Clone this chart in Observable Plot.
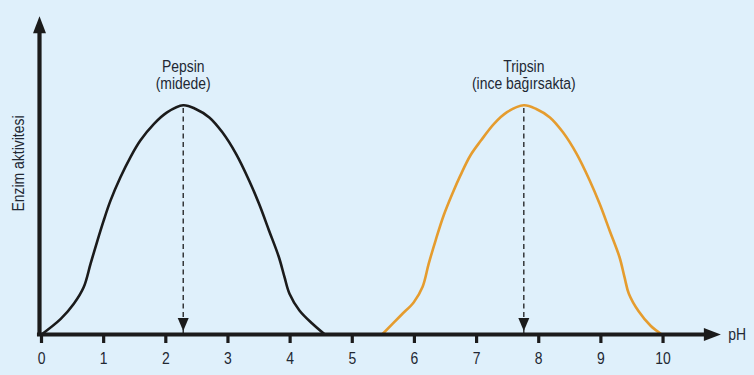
<!DOCTYPE html>
<html>
<head>
<meta charset="utf-8">
<script src="https://cdn.jsdelivr.net/npm/d3@7"></script>
<script src="https://cdn.jsdelivr.net/npm/@observablehq/plot@0.6"></script>
<style>
  html, body { margin: 0; padding: 0; background: #dff0fb; }
  #chart { width: 754px; height: 375px; }
</style>
</head>
<body>
<div id="chart"></div>
<script>
// ---- data ----
const pepsinPH  = [0, 0.31, 0.52, 0.68, 0.79, 0.90, 1.00, 1.11, 1.27, 1.43, 1.59, 1.81, 2.02, 2.28, 2.48, 2.70, 2.91, 3.13, 3.34, 3.50, 3.66, 3.82, 3.91, 3.99, 4.15, 4.36, 4.56];
const pepsinAct = [0, 6.8, 13.4, 20.7, 30.9, 41.0, 49.7, 58.4, 68.6, 77.3, 84.6, 91.9, 96.9, 100, 98.4, 94.7, 88.2, 78.8, 67.2, 57.0, 45.4, 33.7, 25.0, 17.8, 10.5, 4.7, 0];
const tripsinPH  = [5.48, 5.78, 5.99, 6.13, 6.23, 6.34, 6.47, 6.61, 6.74, 6.90, 7.07, 7.28, 7.49, 7.76, 7.96, 8.18, 8.39, 8.61, 8.82, 8.98, 9.14, 9.30, 9.38, 9.45, 9.61, 9.80, 9.98];
const tripsinAct = [0, 8.3, 14.1, 20.7, 30.9, 41.0, 51.9, 61.4, 69.4, 78.1, 84.6, 91.9, 97.0, 100, 98.4, 94.7, 88.2, 78.8, 67.2, 57.0, 45.4, 33.7, 25.0, 17.8, 10.0, 3.8, 0];

const enzymeNames = ["Pepsin", "Tripsin"];
const enzymePlaces = ["(midede)", "(ince bağırsakta)"];
const optimumPH = [2.28, 7.76];
const peakActivity = [100, 100];

const xTicks = [0, 1, 2, 3, 4, 5, 6, 7, 8, 9, 10];
const xAxisLabel = "pH";
const yAxisLabel = "Enzim aktivitesi";
const xAxisEnd = 10.93;   // pH at arrow tip of x axis
const yAxisEnd = 138.8;   // activity at arrow tip of y axis

// ---- build tables ----
const pepsin = pepsinPH.map((x, i) => ({x, y: pepsinAct[i]}));
const tripsin = tripsinPH.map((x, i) => ({x, y: tripsinAct[i]}));
const peaks = enzymeNames.map((n, i) => ({name: n, place: enzymePlaces[i], x: optimumPH[i], y: peakActivity[i], label: n + "\n" + enzymePlaces[i]}));

const ink = "#1b1b1b";
const textInk = "#222833";
const font = "'Liberation Sans', Arial, sans-serif";

const headBig = {draw(ctx) { ctx.moveTo(0, 0); ctx.lineTo(-6.5, 17); ctx.lineTo(6.5, 17); ctx.closePath(); }};
const headSmall = {draw(ctx) { ctx.moveTo(0, 0); ctx.lineTo(-5.5, 13); ctx.lineTo(5.5, 13); ctx.closePath(); }};

const chart = Plot.plot({
  width: 754,
  height: 375,
  marginLeft: 41,
  marginRight: 29.3,
  marginTop: 14,
  marginBottom: 41,
  style: {background: "#dff0fb", color: ink, fontFamily: font, fontSize: "17px"},
  x: {domain: [0, 11], axis: null},
  y: {domain: [0, 139.6], axis: null},
  marks: [
    // x ticks and labels
    Plot.axisX({ticks: xTicks, tickSize: 9, tickPadding: 8.5, strokeWidth: 3.2, stroke: ink, fill: textInk, fontSize: 17, tickFormat: d3.format("d"), label: null}),
    // dashed optimum lines
    Plot.ruleX(peaks, {x: "x", y1: 0, y2: "y", stroke: ink, strokeWidth: 1.3, strokeDasharray: "5,3.5"}),
    Plot.dot(peaks, {x: "x", y: 0, symbol: headSmall, fill: ink, stroke: "none", rotate: 180, dy: -3.5}),
    // curves
    Plot.line(pepsin, {x: "x", y: "y", curve: "catmull-rom", stroke: "#1b1b1b", strokeWidth: 2.6}),
    Plot.line(tripsin, {x: "x", y: "y", curve: "catmull-rom", stroke: "#e59c2e", strokeWidth: 2.6}),
    // axes lines with arrowheads
    Plot.ruleY([0], {x1: -0.065, x2: xAxisEnd - 0.2, stroke: ink, strokeWidth: 4.2}),
    Plot.dot([{x: xAxisEnd, y: 0}], {x: "x", y: "y", symbol: headBig, fill: ink, stroke: "none", rotate: 90}),
    Plot.ruleX([0], {y1: -0.9, y2: yAxisEnd - 5, stroke: ink, strokeWidth: 4.2, dx: -2}),
    Plot.dot([{x: 0, y: yAxisEnd}], {x: "x", y: "y", symbol: headBig, fill: ink, stroke: "none", dx: -2}),
    // enzyme labels
    Plot.text(peaks, {x: "x", y: "y", text: "label", lineAnchor: "bottom", lineHeight: 1.0, dy: -16, fontSize: 17, fill: textInk}),
    // axis labels
    Plot.text([xAxisLabel], {x: 11, y: 0, text: d => d, textAnchor: "start", dx: 3, fontSize: 17, fill: textInk}),
    Plot.text([yAxisLabel], {frameAnchor: "left", text: d => d, textAnchor: "middle", rotate: -90, dx: -23, dy: -11, fontSize: 17, fill: textInk})
  ]
});
// condensed look: narrow every text horizontally around its own anchor
chart.querySelectorAll("text").forEach(t => {
  const tr = t.getAttribute("transform");
  t.setAttribute("transform", (tr ? tr + " " : "") + "scale(0.82,1)");
});
document.getElementById("chart").appendChild(chart);
</script>
</body>
</html>
